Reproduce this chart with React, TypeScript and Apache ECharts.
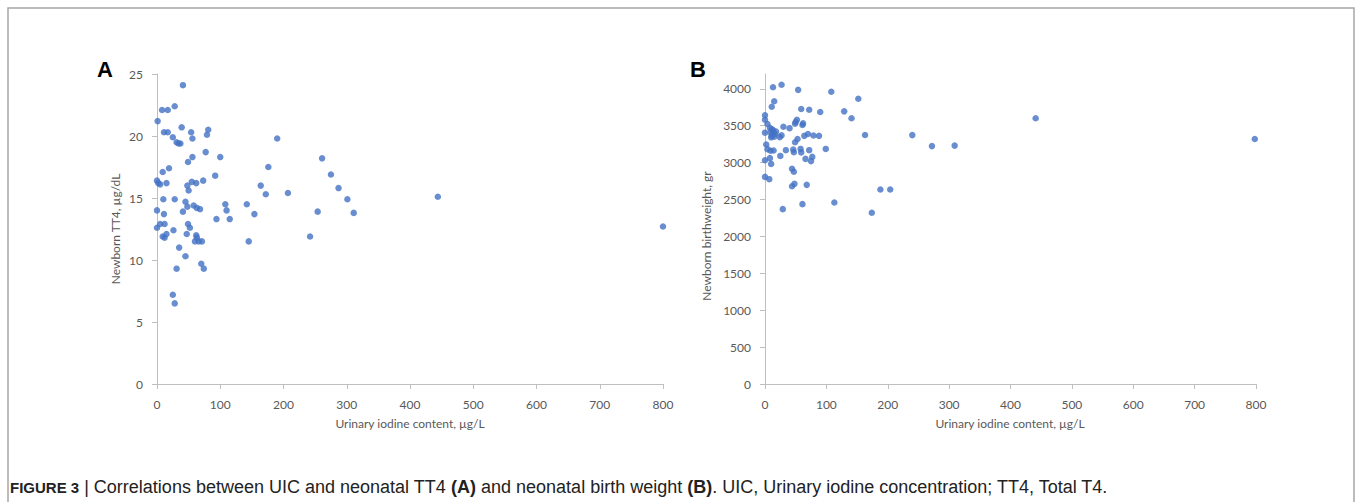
import React, { useEffect, useRef } from "react";
import * as echarts from "echarts";

// Panel A: [urinary iodine µg/L, newborn TT4 µg/dL]
const panelA: number[][] = [
  [41, 24.1], [8, 22.1], [17, 22.1], [28, 22.4], [1, 21.2], [11, 20.3], [17, 20.3], [39, 20.7],
  [54, 20.3], [25, 19.9], [31, 19.5], [34, 19.4], [37, 19.4], [56, 19.8], [81, 20.5], [79, 20.1],
  [190, 19.8], [77, 18.7], [100, 18.3], [56, 18.3], [49, 17.9], [261, 18.2], [19, 17.4], [9, 17.1],
  [176, 17.5], [275, 16.9], [92, 16.8], [0, 16.4], [2, 16.2], [5, 16.1], [15, 16.2], [48, 16.0],
  [55, 16.3], [62, 16.2], [73, 16.4], [50, 15.6], [164, 16.0], [172, 15.3], [207, 15.4], [287, 15.8],
  [10, 14.9], [28, 14.9], [45, 14.7], [48, 14.3], [58, 14.4], [63, 14.2], [68, 14.1], [108, 14.5],
  [110, 14.0], [142, 14.5], [154, 13.7], [254, 13.9], [0, 14.0], [11, 13.7], [41, 13.9], [94, 13.3],
  [115, 13.3], [301, 14.9], [311, 13.8], [444, 15.1], [800, 12.7],
  [0, 12.6], [5, 12.9], [12, 12.9], [9, 11.9], [12, 11.8], [15, 12.1], [26, 12.4], [49, 12.9],
  [52, 12.6], [47, 12.1], [62, 12.0], [63, 11.8], [60, 11.5], [66, 11.5], [71, 11.5], [145, 11.5],
  [242, 11.9], [35, 11.0], [45, 10.3], [70, 9.7], [74, 9.3], [31, 9.3], [25, 7.2], [28, 6.5],
];

// Panel B: [urinary iodine µg/L, newborn birthweight gr]
const panelB: number[][] = [
  [13, 4020], [27, 4055], [54, 3985], [108, 3960], [152, 3865], [15, 3830], [11, 3757], [59, 3725],
  [72, 3716], [90, 3685], [129, 3694], [141, 3600], [0, 3640], [0, 3580], [50, 3550], [49, 3527],
  [52, 3580], [61, 3509], [62, 3531], [4, 3523], [30, 3486], [0, 3405], [8, 3472], [11, 3450],
  [13, 3440], [9, 3410], [14, 3410], [16, 3387], [18, 3420], [11, 3365], [15, 3351], [10, 3342],
  [24, 3345], [27, 3369], [40, 3466], [64, 3362], [70, 3387], [79, 3367], [88, 3362], [163, 3374],
  [240, 3372], [272, 3223], [53, 3320], [49, 3275], [2, 3245], [4, 3182], [9, 3160], [14, 3164],
  [34, 3168], [46, 3176], [47, 3140], [58, 3185], [59, 3138], [72, 3168], [99, 3185], [77, 3077],
  [75, 3020], [66, 3050], [25, 3090], [8, 3060], [0, 3032], [10, 2982], [44, 2917], [47, 2876],
  [0, 2806], [7, 2775], [44, 2680], [48, 2712], [68, 2698], [188, 2635], [204, 2635], [113, 2459],
  [61, 2437], [29, 2369], [174, 2320], [309, 3230], [441, 3600], [798, 3320],
];

const xTicksA = [0, 100, 200, 300, 400, 500, 600, 700, 800];
const yTicksA = [0, 5, 10, 15, 20, 25];
const yTicksB = [0, 500, 1000, 1500, 2000, 2500, 3000, 3500, 4000];

const xTitle = "Urinary iodine content, µg/L";
const yTitleA = "Newborn TT4, µg/dL";
const yTitleB = "Newborn birthweight, gr";

const FONT = "Lato, 'Open Sans', sans-serif";
const CAP_FONT = "'Liberation Sans', Arial, sans-serif";
const GRAY = "#595959";
const AXIS = "#bfbfbf";
const DOT = "#4472C4";

function xAxisCfg(gridIndex: number) {
  return {
    type: "value" as const,
    gridIndex,
    min: xTicksA[0],
    max: xTicksA[xTicksA.length - 1],
    interval: 100,
    axisLine: { show: true, lineStyle: { color: AXIS, width: 1 } },
    axisTick: { show: true, length: 5, lineStyle: { color: AXIS } },
    splitLine: { show: false },
    axisLabel: { color: GRAY, fontSize: 12, fontFamily: FONT, margin: 14 },
  };
}

export default function App() {
  const ref = useRef<HTMLDivElement>(null);
  useEffect(() => {
    if (!ref.current) return;
    const chart = echarts.init(ref.current, null, { renderer: "svg" });
    const titleStyle = { fill: GRAY, fontSize: 12, fontFamily: FONT, align: "center", verticalAlign: "middle" };
    chart.setOption({
      animation: false,
      backgroundColor: "#ffffff",
      grid: [
        { left: 157, top: 74, width: 506, height: 310 },
        { left: 765, top: 74, width: 491, height: 310 },
      ],
      xAxis: [xAxisCfg(0), xAxisCfg(1)],
      yAxis: [
        {
          type: "value",
          gridIndex: 0,
          min: 0,
          max: 25,
          interval: 5,
          axisLine: { show: true, lineStyle: { color: AXIS, width: 1 } },
          axisTick: { show: true, length: 5, lineStyle: { color: AXIS } },
          splitLine: { show: false },
          axisLabel: { color: GRAY, fontSize: 12, fontFamily: FONT, margin: 14, customValues: yTicksA },
        },
        {
          type: "value",
          gridIndex: 1,
          min: 0,
          max: 4200,
          interval: 500,
          axisLine: { show: true, lineStyle: { color: AXIS, width: 1 } },
          axisTick: { show: true, length: 5, lineStyle: { color: AXIS }, customValues: yTicksB },
          splitLine: { show: false },
          axisLabel: {
            color: GRAY,
            fontSize: 12,
            fontFamily: FONT,
            margin: 14,
            customValues: yTicksB,
            formatter: (v: number) => String(v),
          },
        },
      ],
      series: [
        {
          type: "scatter",
          xAxisIndex: 0,
          yAxisIndex: 0,
          data: panelA,
          symbolSize: 6.5,
          itemStyle: { color: DOT },
        },
        {
          type: "scatter",
          xAxisIndex: 1,
          yAxisIndex: 1,
          data: panelB,
          symbolSize: 6.5,
          itemStyle: { color: DOT },
        },
      ],
      graphic: [
        {
          type: "rect",
          shape: { x: 8, y: 8, width: 1346, height: 520 },
          style: { fill: "none", stroke: "#a6a6a6", lineWidth: 1.5 },
          silent: true,
        },
        { type: "text", x: 105, y: 69, style: { text: "A", fill: "#000", fontSize: 22, fontWeight: "bold", fontFamily: CAP_FONT, align: "center", verticalAlign: "middle" } },
        { type: "text", x: 698, y: 69, style: { text: "B", fill: "#000", fontSize: 22, fontWeight: "bold", fontFamily: CAP_FONT, align: "center", verticalAlign: "middle" } },
        { type: "text", x: 115, y: 229, rotation: Math.PI / 2, style: { ...titleStyle, text: yTitleA } },
        { type: "text", x: 706, y: 236, rotation: Math.PI / 2, style: { ...titleStyle, text: yTitleB } },
        { type: "text", x: 410, y: 423, style: { ...titleStyle, text: xTitle } },
        { type: "text", x: 1010, y: 423, style: { ...titleStyle, text: xTitle } },
        {
          type: "text",
          x: 10,
          y: 487,
          style: {
            text: "{f|FIGURE 3} | Correlations between UIC and neonatal TT4 {b|(A)} and neonatal birth weight {b|(B)}. UIC, Urinary iodine concentration; TT4, Total T4.",
            fill: "#222",
            fontSize: 18,
            fontFamily: CAP_FONT,
            verticalAlign: "middle",
            rich: {
              f: { fontWeight: "bold", fontSize: 15, fill: "#222", fontFamily: CAP_FONT },
              b: { fontWeight: "bold", fontSize: 18, fill: "#222", fontFamily: CAP_FONT },
            },
          },
        },
      ],
    });
    return () => chart.dispose();
  }, []);
  return (
    <div
      ref={ref}
      style={{ position: "fixed", left: 0, top: 0, width: 1355, height: 502 }}
    />
  );
}
